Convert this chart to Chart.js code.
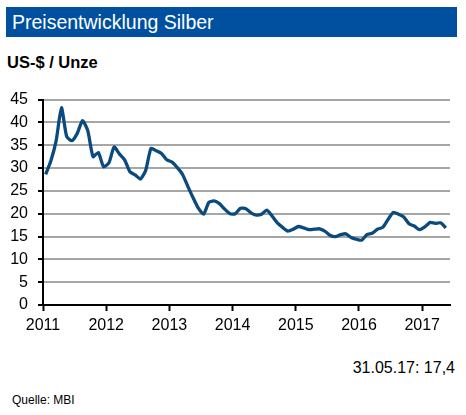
<!DOCTYPE html>
<html>
<head>
<meta charset="utf-8">
<script src="https://cdn.jsdelivr.net/npm/chart.js@4"></script>
<style>
  body { margin: 0; background: #fff; font-family: 'Liberation Sans', Arial, sans-serif; }
  #wrap { position: relative; width: 466px; height: 415px; overflow: hidden; }
  .title { position: absolute; left: 6px; top: 7px; width: 451px; height: 30px; background: #0050a0;
           color: #fff; font-size: 19.5px; line-height: 30px; padding-left: 6px; box-sizing: border-box; }
  .unit { position: absolute; left: 7px; top: 52px; font-size: 16.5px; font-weight: bold; line-height: 20px; }
  .stamp { position: absolute; right: 11px; top: 358px; font-size: 16px; line-height: 20px; }
  .source { position: absolute; left: 12px; top: 392px; font-size: 12px; line-height: 16px; }
  canvas { position: absolute; left: 0; top: 80px; }
</style>
</head>
<body>
<div id="wrap">
  <div class="title">Preisentwicklung Silber</div>
  <div class="unit">US-$ / Unze</div>
  <canvas id="silverChart" width="466" height="265"></canvas>
  <div class="stamp">31.05.17: 17,4</div>
  <div class="source">Quelle: MBI</div>
</div>
<script>
// monthly averages, Jan 2011 .. May 2017
const startYear = 2011;
const prices = [
  28.6, 31.6, 36.0, 43.2, 36.9, 36.0, 37.6, 40.4, 38.2, 32.5, 33.4, 30.3, // 2011
  31.1, 34.6, 33.1, 31.8, 29.2, 28.5, 27.6, 29.5, 34.3, 33.8, 33.2, 31.8, // 2012
  31.3, 30.1, 28.6, 26.0, 23.5, 21.2, 19.9, 22.5, 22.8, 22.2, 21.0, 20.0, // 2013
  20.0, 21.2, 21.1, 20.2, 19.7, 19.9, 20.8, 19.5, 18.0, 17.0, 16.2, 16.6, // 2014
  17.2, 16.9, 16.5, 16.6, 16.7, 16.2, 15.3, 15.0, 15.4, 15.6, 14.8, 14.4, // 2015
  14.2, 15.4, 15.7, 16.6, 17.0, 18.7, 20.3, 19.9, 19.3, 17.8, 17.3, 16.5, // 2016
  17.1, 18.1, 17.9, 18.0, 16.9                                             // 2017
];
const yearTicks = [2011, 2012, 2013, 2014, 2015, 2016, 2017];
const valueTicks = [0, 5, 10, 15, 20, 25, 30, 35, 40, 45];

const points = prices.map((v, i) => ({ x: startYear + (i + 0.5) / 12, y: v }));
const font = { family: "'Liberation Sans', Arial, sans-serif", size: 16 };

new Chart(document.getElementById('silverChart'), {
    type: 'line',
    data: {
        datasets: [{
            data: points,
            borderColor: '#0b4a7e',
            borderWidth: 3.3,
            pointRadius: 0,
            tension: 0.2,
            fill: false
        }]
    },
    options: {
        responsive: false,
        animation: false,
        layout: { padding: { top: 19, right: 16, left: 0, bottom: 0 } },
        plugins: { legend: { display: false }, tooltip: { enabled: false } },
        scales: {
            x: {
                type: 'linear',
                min: 2011,
                max: 2017.44,
                afterBuildTicks: s => { s.ticks = yearTicks.map(v => ({ value: v })); },
                afterFit: s => { s.height = 40; },
                ticks: {
                    color: '#000', font: font, padding: 5,
                    maxRotation: 0, autoSkip: false,
                    callback: v => String(v)
                },
                grid: { drawOnChartArea: false, drawTicks: true, tickLength: 6, tickColor: '#000', tickWidth: 2 },
                border: { color: '#000', width: 2 }
            },
            y: {
                min: 0,
                max: 45,
                afterBuildTicks: s => { s.ticks = valueTicks.map(v => ({ value: v })); },
                afterFit: s => { s.width = 43; },
                ticks: { color: '#000', font: font, padding: 10 },
                grid: { color: '#a6a6a6', lineWidth: 2, drawTicks: true, tickLength: 5, tickColor: '#000', tickWidth: 2 },
                border: { color: '#000', width: 2 }
            }
        }
    }
});
</script>
</body>
</html>
